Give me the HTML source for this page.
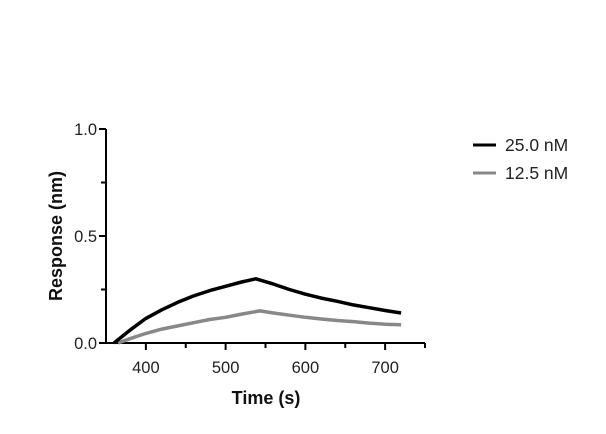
<!DOCTYPE html>
<html><head><meta charset="utf-8"><style>
html,body{margin:0;padding:0;background:#fff;}
svg{display:block;font-family:"Liberation Sans",sans-serif;}
</style></head><body>
<svg id="chart" width="606" height="434"></svg>
<script>
const times25 = [360,380,400,420,440,460,480,500,520,538,560,580,600,620,640,660,680,700,720];
const resp25 = [0,0.06,0.115,0.155,0.19,0.22,0.245,0.265,0.285,0.3,0.275,0.25,0.228,0.21,0.195,0.178,0.165,0.152,0.14];
const times125 = [365,380,400,420,440,460,480,500,520,543,560,580,600,620,640,660,680,700,720];
const resp125 = [0,0.02,0.045,0.065,0.08,0.095,0.11,0.12,0.135,0.15,0.14,0.13,0.12,0.112,0.105,0.1,0.093,0.088,0.085];
const xTicks = [400,500,600,700];
const xMinor = [450,550,650,750];
const yTicks = [0,0.5,1];
const yTickLabels = ["0.0","0.5","1.0"];
const yMinor = [0.25,0.75];
const seriesNames = ["25.0 nM","12.5 nM"];

const NS="http://www.w3.org/2000/svg";
const svg=document.getElementById('chart');
const X=v=>106+(v-350)*(425-106)/400;
const Y=v=>343-v*214;
function mk(t,a){const e=document.createElementNS(NS,t);for(const k in a)e.setAttribute(k,a[k]);svg.appendChild(e);return e;}
let e;
e=mk('line',{x1:106,y1:129,x2:106,y2:344,stroke:'#000','stroke-width':2});


e=mk('line',{x1:105,y1:343,x2:425,y2:343,stroke:'#000','stroke-width':2});


xTicks.forEach(v=>{
 e=mk('line',{x1:X(v),y1:343,x2:X(v),y2:350,stroke:'#000','stroke-width':2});
 
 
 e=mk('text',{x:X(v),y:373,'text-anchor':'middle','font-size':16.5,fill:'#222'});e.textContent=v;
 
 
});
xMinor.forEach(v=>{
 e=mk('line',{x1:X(v),y1:343,x2:X(v),y2:348,stroke:'#000','stroke-width':2});
 
 
});
yTicks.forEach((v,i)=>{
 e=mk('line',{x1:99,y1:Y(v),x2:106,y2:Y(v),stroke:'#000','stroke-width':2});
 
 
 e=mk('text',{x:97,y:Y(v)+6,'text-anchor':'end','font-size':16.5,fill:'#222'});e.textContent=yTickLabels[i];
 
 
});
yMinor.forEach(v=>{
 e=mk('line',{x1:101,y1:Y(v),x2:106,y2:Y(v),stroke:'#000','stroke-width':2});
 
 
});
e=mk('text',{x:266,y:404,'text-anchor':'middle','font-size':18,'font-weight':'bold',fill:'#111'});e.textContent='Time (s)';


e=mk('text',{x:0,y:0,'text-anchor':'middle','font-size':18,'font-weight':'bold',fill:'#111',transform:'translate(62,236) rotate(-90)'});e.textContent='Response (nm)';


function line(ts,vs,col,name){
 const d=ts.map((t,i)=>(i?'L':'M')+X(t).toFixed(1)+','+Y(vs[i]).toFixed(1)).join('');
 const p=mk('path',{d:d,fill:'none',stroke:col,'stroke-width':3.5,'stroke-linejoin':'round'});
 
 
}
line(times125,resp125,'#888','series-12-5nm');
line(times25,resp25,'#000','series-25nm');
const cols=['#000','#888'];
seriesNames.forEach((n,i)=>{
 const y=145+i*28;
 e=mk('line',{x1:473,y1:y,x2:496,y2:y,stroke:cols[i],'stroke-width':3});
 
 
 e=mk('text',{x:505,y:y+6,'font-size':17.5,fill:'#222'});e.textContent=n;
 
 
});
</script>
</body></html>
